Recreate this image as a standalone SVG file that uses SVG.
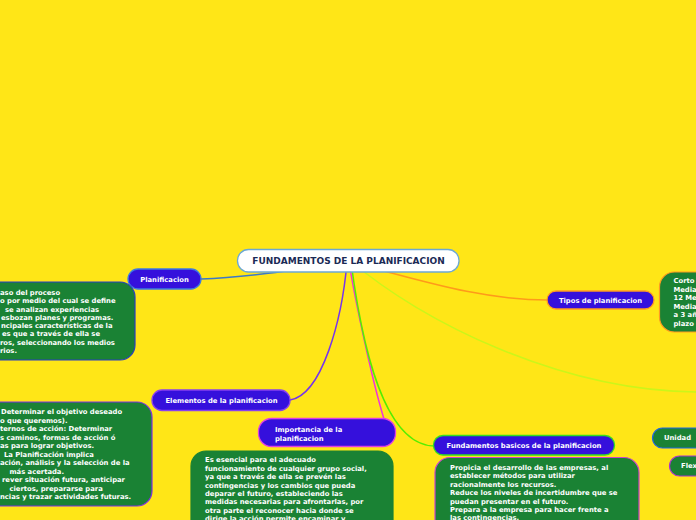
<svg xmlns="http://www.w3.org/2000/svg" width="696" height="520" viewBox="0 0 696 520">
<style>
text{font-family:"DejaVu Sans","Liberation Sans",sans-serif;font-weight:bold;font-size:6.8px;fill:#ffffff}
.root-t{font-size:9px;fill:#1b2a55;text-anchor:middle}
.mid{text-anchor:middle}
.node{fill:#3510dc;stroke-width:1.3}
.box{fill:#1a8234;stroke-width:1.2}
.conn{fill:none;stroke-width:1.5}
</style>
<rect x="0" y="0" width="696" height="520" fill="#ffe617"/>
<g id="connectors">
<path class="conn" stroke="#3c78c8" d="M 348 262 C 280 272, 240 278, 201 279"/>
<path class="conn" stroke="#7733ee" d="M 347 262 C 342 320, 322 395, 290 400"/>
<path class="conn" stroke="#ee33dd" d="M 349 262 C 355 300, 372 380, 384 419"/>
<path class="conn" stroke="#55ee00" d="M 351 262 C 360 330, 380 445, 434 446"/>
<path class="conn" stroke="#ff9a1a" d="M 350 262 C 420 280, 480 300, 548 300"/>
<path class="conn" stroke="#ccf51a" d="M 352 262 C 420 320, 560 392, 700 392"/>
</g>
<g id="root">
<rect x="237.5" y="249.5" width="221.5" height="22.5" rx="11" fill="#ffffff" stroke="#6ca8d4" stroke-width="1.3"/>
<text class="root-t" x="348.5" y="264.3">FUNDAMENTOS DE LA PLANIFICACION</text>
</g>
<g id="planificacion">
<rect class="node" x="128" y="269" width="73" height="20" rx="10" stroke="#3d7ae0"/>
<text class="mid" x="164.5" y="281.8">Planificacion</text>
</g>
<g id="planificacion-text">
<rect class="box" x="-20" y="282" width="155" height="78" rx="15" stroke="#2a3fc0"/>
<text x="0" y="294.8">aso del proceso</text>
<text x="0" y="303.2">o por medio del cual se define</text>
<text x="5" y="311.5">se analizan experiencias</text>
<text x="1" y="319.8">esbozan planes y programas.</text>
<text x="1" y="328.1">ncipales características de la</text>
<text x="2" y="336.4">es que a través de ella se</text>
<text x="0" y="344.7">ros, seleccionando los medios</text>
<text x="0" y="353.1">rios.</text>
</g>
<g id="elementos">
<rect class="node" x="152" y="390" width="138" height="20.5" rx="10" stroke="#8840ee"/>
<text class="mid" x="221.5" y="403">Elementos de la planificacion</text>
</g>
<g id="elementos-text">
<rect class="box" x="-20" y="402" width="172" height="104" rx="15" stroke="#8030e0"/>
<text x="1" y="414">Determinar el objetivo deseado</text>
<text x="0" y="422.5">o que queremos).</text>
<text x="0" y="431">ternos de acción: Determinar</text>
<text x="0" y="439.6">s caminos, formas de acción ó</text>
<text x="0" y="448.2">as para lograr objetivos.</text>
<text x="4" y="456.8">La Planificación implica</text>
<text x="0" y="465.3">ación, análisis y la selección de la</text>
<text x="9.5" y="473.8">más acertada.</text>
<text x="2" y="482.3">rever situación futura, anticipar</text>
<text x="9.5" y="490.8">ciertos, prepararse para</text>
<text x="0" y="499.3">ncias y trazar actividades futuras.</text>
</g>
<g id="importancia">
<rect class="node" x="258.5" y="418.5" width="137" height="28" rx="13" stroke="#e040e0"/>
<text x="275" y="431.5">Importancia de la</text>
<text x="275" y="440.5">planificacion</text>
</g>
<g id="importancia-text">
<rect class="box" x="191" y="451" width="202" height="100" rx="15" stroke="#1a8234"/>
<text x="205" y="462.3">Es esencial para el adecuado</text>
<text x="205" y="470.7">funcionamiento de cualquier grupo social,</text>
<text x="205" y="479.1">ya que a través de ella se prevén las</text>
<text x="205" y="487.5">contingencias y los cambios que pueda</text>
<text x="205" y="495.9">deparar el futuro, estableciendo las</text>
<text x="205" y="504.3">medidas necesarias para afrontarlas, por</text>
<text x="205" y="512.7">otra parte el reconocer hacia donde se</text>
<text x="205" y="521.1">dirige la acción permite encaminar y</text>
</g>
<g id="fundamentos">
<rect class="node" x="433.5" y="435.5" width="181" height="19.5" rx="9.5" stroke="#33dd22"/>
<text class="mid" x="524" y="448">Fundamentos basicos de la planificacion</text>
</g>
<g id="fundamentos-text">
<rect class="box" x="435" y="457.5" width="204" height="90" rx="15" stroke="#cc44cc"/>
<text x="450" y="470">Propicia el desarrollo de las empresas, al</text>
<text x="450" y="478.4">establecer métodos para utilizar</text>
<text x="450" y="486.8">racionalmente los recursos.</text>
<text x="450" y="495.2">Reduce los niveles de incertidumbre que se</text>
<text x="450" y="503.6">puedan presentar en el futuro.</text>
<text x="450" y="512">Prepara a la empresa para hacer frente a</text>
<text x="450" y="520.4">las contingencias.</text>
</g>
<g id="tipos">
<rect class="node" x="547" y="291" width="107" height="18" rx="9" stroke="#ff9922"/>
<text class="mid" x="600.5" y="302.8">Tipos de planificacion</text>
</g>
<g id="tipos-text">
<rect class="box" x="659.5" y="272" width="60" height="60" rx="15" stroke="#ff9922"/>
<text x="673.5" y="283">Corto</text>
<text x="673.5" y="291.5">Media</text>
<text x="673.5" y="300">12 Me</text>
<text x="673.5" y="308.6">Media</text>
<text x="673.5" y="317.1">a 3 añ</text>
<text x="673.5" y="325.6">plazo</text>
</g>
<g id="unidad">
<rect class="box" x="652.5" y="428" width="70" height="20" rx="10" stroke="#2266dd"/>
<text x="664" y="440.3">Unidad</text>
</g>
<g id="flex">
<rect class="box" x="669.5" y="456" width="60" height="20" rx="10" stroke="#aa33cc"/>
<text x="681" y="468.3">Flex</text>
</g>
</svg>
